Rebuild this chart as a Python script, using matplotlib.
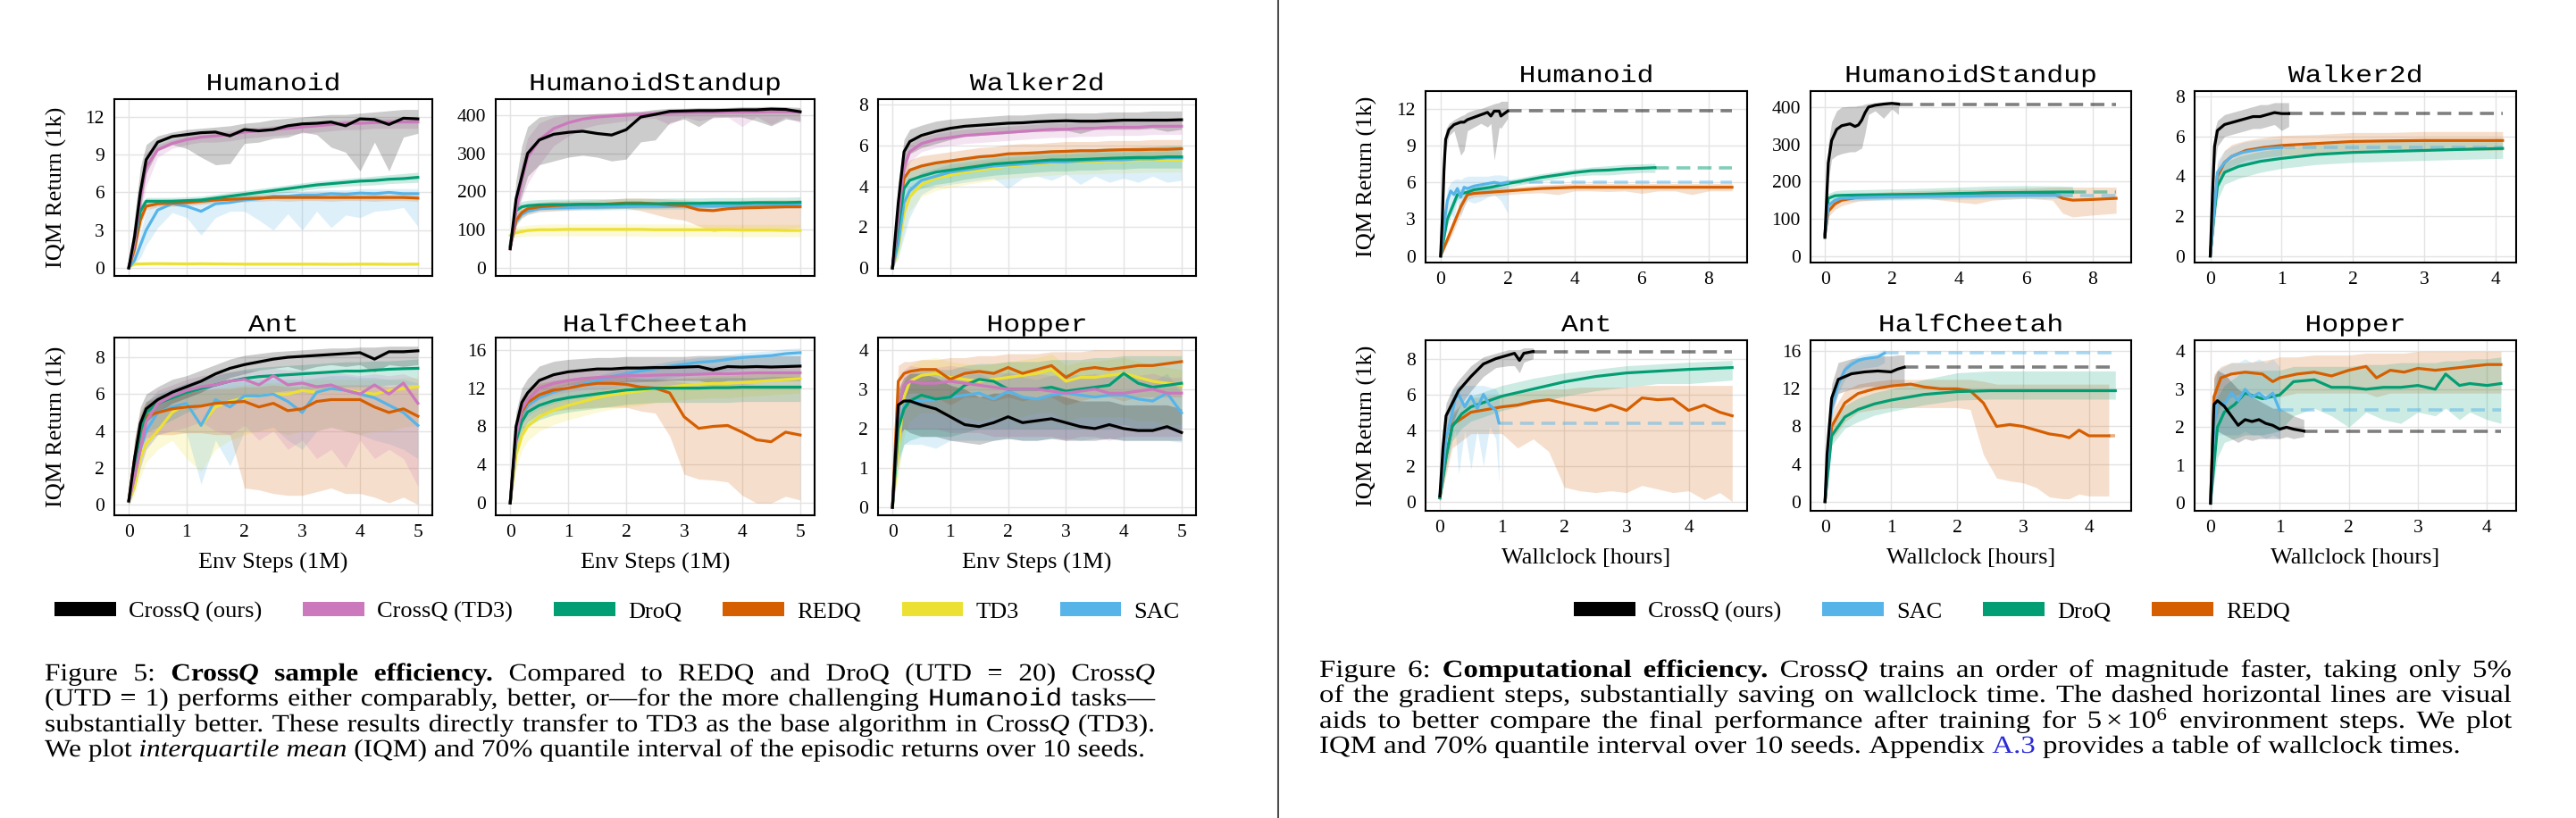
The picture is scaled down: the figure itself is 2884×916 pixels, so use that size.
import numpy as np
import matplotlib
matplotlib.use("Agg")
import matplotlib.pyplot as plt
from matplotlib.lines import Line2D
from matplotlib.patheffects import AbstractPathEffect
from matplotlib.transforms import Affine2D

# ---------------- Figure 5 data (x = env steps in 1M) ----------------
X5 = [0, 0.1, 0.2, 0.3, 0.5, 0.75, 1.0, 1.25, 1.5, 1.75, 2.0, 2.25, 2.5, 2.75, 3.0, 3.25, 3.5, 3.75, 4.0, 4.25, 4.5, 4.75, 5.0]

hum_cq    = [0, 2.5, 6.0, 8.6, 10.0, 10.45, 10.6, 10.75, 10.8, 10.5, 11.0, 10.9, 11.0, 11.3, 11.45, 11.5, 11.6, 11.3, 11.85, 11.8, 11.4, 11.9, 11.85]
hum_cq_lo = [0, 1.5, 4.5, 7.5, 9.3, 9.8, 9.5, 8.8, 8.2, 8.3, 9.9, 10.0, 10.3, 10.4, 10.8, 10.6, 9.6, 9.2, 7.7, 10.0, 7.7, 10.4, 10.7]
hum_cq_hi = [0.2, 4.0, 8.0, 9.8, 10.5, 10.8, 11.0, 11.1, 11.2, 11.3, 11.5, 11.6, 11.8, 11.9, 12.0, 12.1, 12.2, 12.2, 12.3, 12.4, 12.5, 12.6, 12.6]
hum_cqt    = [0, 2.0, 5.5, 8.0, 9.4, 9.9, 10.2, 10.4, 10.5, 10.6, 10.8, 10.9, 11.0, 11.1, 11.2, 11.3, 11.4, 11.5, 11.5, 11.55, 11.6, 11.6, 11.6]
hum_cqt_lo = [0, 1.0, 4.0, 6.5, 8.8, 9.5, 9.8, 10.0, 10.0, 10.1, 10.3, 10.4, 10.5, 10.6, 10.7, 10.8, 10.9, 11.0, 11.0, 11.1, 11.1, 11.1, 11.1]
hum_cqt_hi = [0.1, 3.0, 7.0, 9.2, 9.8, 10.2, 10.5, 10.7, 10.8, 10.9, 11.1, 11.2, 11.3, 11.4, 11.5, 11.6, 11.7, 11.8, 11.8, 11.9, 11.9, 11.9, 11.9]
hum_droq    = [0, 2.0, 4.5, 5.3, 5.3, 5.3, 5.35, 5.4, 5.55, 5.7, 5.85, 6.0, 6.15, 6.3, 6.45, 6.6, 6.7, 6.8, 6.9, 6.95, 7.05, 7.1, 7.2]
hum_droq_lo = [0, 1.5, 4.0, 5.0, 5.05, 5.05, 5.1, 5.15, 5.3, 5.45, 5.6, 5.75, 5.9, 6.0, 6.15, 6.3, 6.4, 6.5, 6.55, 6.6, 6.7, 6.75, 6.8]
hum_droq_hi = [0.1, 2.5, 5.0, 5.6, 5.6, 5.6, 5.65, 5.7, 5.85, 6.0, 6.15, 6.3, 6.45, 6.6, 6.75, 6.9, 7.0, 7.1, 7.2, 7.3, 7.4, 7.5, 7.6]
hum_redq    = [0, 1.5, 3.8, 4.9, 5.1, 5.15, 5.2, 5.3, 5.4, 5.45, 5.5, 5.55, 5.6, 5.6, 5.6, 5.6, 5.6, 5.6, 5.6, 5.6, 5.6, 5.6, 5.55]
hum_redq_lo = [0, 1.0, 3.2, 4.6, 4.85, 4.9, 4.95, 5.05, 5.15, 5.2, 5.25, 5.3, 5.35, 5.3, 5.35, 5.35, 5.3, 5.35, 5.35, 5.3, 5.35, 5.35, 5.3]
hum_redq_hi = [0.1, 2.0, 4.3, 5.2, 5.35, 5.4, 5.45, 5.55, 5.65, 5.7, 5.75, 5.8, 5.85, 5.85, 5.85, 5.85, 5.85, 5.85, 5.85, 5.85, 5.85, 5.85, 5.8]
hum_td3    = [0.1, 0.3, 0.32, 0.33, 0.34, 0.33, 0.32, 0.33, 0.32, 0.31, 0.3, 0.3, 0.3, 0.3, 0.3, 0.3, 0.29, 0.29, 0.3, 0.3, 0.29, 0.29, 0.3]
hum_td3_lo = [0.0, 0.15, 0.18, 0.2, 0.2, 0.2, 0.2, 0.2, 0.2, 0.2, 0.2, 0.19, 0.19, 0.19, 0.19, 0.19, 0.18, 0.18, 0.19, 0.19, 0.18, 0.18, 0.19]
hum_td3_hi = [0.15, 0.42, 0.45, 0.46, 0.47, 0.46, 0.45, 0.46, 0.45, 0.44, 0.43, 0.43, 0.43, 0.43, 0.43, 0.43, 0.42, 0.42, 0.43, 0.43, 0.42, 0.42, 0.43]
hum_sac    = [0, 0.6, 1.8, 3.0, 4.6, 5.1, 4.9, 4.5, 5.1, 5.2, 5.4, 5.5, 5.7, 5.7, 5.8, 5.8, 5.9, 5.85, 5.95, 5.9, 6.0, 5.9, 5.9]
hum_sac_lo = [0, 0.3, 0.8, 1.8, 3.2, 4.4, 4.0, 2.6, 4.0, 4.5, 4.5, 3.8, 3.0, 4.3, 3.0, 4.5, 3.2, 4.2, 4.0, 4.5, 4.6, 4.8, 3.3]
hum_sac_hi = [0.3, 1.0, 2.8, 4.5, 5.4, 5.5, 5.5, 5.5, 5.6, 5.7, 5.8, 5.9, 6.0, 6.1, 6.1, 6.2, 6.2, 6.2, 6.3, 6.3, 6.3, 6.3, 6.3]

hsu_cq    = [50, 180, 240, 300, 335, 350, 355, 358, 352, 348, 362, 395, 402, 410, 411, 412, 412, 413, 414, 414, 416, 415, 409]
hsu_cq_lo = [50, 140, 190, 240, 270, 280, 290, 295, 290, 280, 285, 330, 335, 380, 390, 370, 395, 395, 395, 385, 372, 390, 385]
hsu_cq_hi = [55, 230, 320, 370, 395, 400, 402, 402, 404, 405, 408, 410, 415, 418, 418, 420, 420, 420, 422, 422, 423, 422, 420]
hsu_cqt    = [50, 150, 230, 290, 335, 365, 380, 390, 395, 398, 400, 402, 404, 405, 406, 407, 407, 408, 408, 408, 409, 409, 408]
hsu_cqt_lo = [50, 110, 180, 220, 270, 320, 345, 365, 375, 380, 385, 390, 392, 375, 395, 385, 392, 395, 370, 396, 375, 395, 380]
hsu_cqt_hi = [55, 190, 280, 340, 380, 395, 400, 402, 404, 406, 408, 410, 412, 413, 414, 415, 416, 416, 417, 417, 418, 418, 418]
hsu_droq    = [60, 150, 160, 163, 165, 166, 166, 167, 167, 167, 168, 168, 168, 169, 169, 169, 170, 170, 170, 171, 171, 171, 172]
hsu_droq_lo = [55, 138, 148, 151, 153, 154, 154, 155, 155, 155, 156, 156, 156, 157, 157, 157, 158, 158, 158, 159, 159, 159, 160]
hsu_droq_hi = [65, 162, 174, 177, 179, 180, 180, 181, 181, 181, 182, 182, 182, 183, 183, 183, 184, 184, 184, 185, 185, 185, 186]
hsu_redq    = [55, 125, 145, 155, 160, 163, 165, 166, 166, 168, 170, 170, 168, 165, 163, 152, 150, 155, 157, 158, 159, 160, 160]
hsu_redq_lo = [50, 110, 130, 140, 148, 150, 152, 153, 154, 155, 156, 150, 140, 130, 125, 110, 95, 100, 102, 100, 100, 102, 105]
hsu_redq_hi = [60, 140, 160, 168, 172, 175, 176, 177, 178, 180, 183, 183, 182, 180, 178, 176, 175, 176, 177, 177, 178, 178, 178]
hsu_td3    = [85, 92, 95, 98, 100, 100, 101, 101, 101, 101, 101, 101, 100, 100, 100, 100, 100, 100, 99, 99, 99, 98, 98]
hsu_td3_lo = [78, 80, 82, 83, 84, 84, 84, 84, 84, 84, 84, 83, 83, 83, 83, 83, 83, 82, 82, 82, 82, 82, 82]
hsu_td3_hi = [95, 108, 110, 112, 114, 115, 115, 115, 115, 115, 115, 115, 115, 115, 115, 114, 114, 114, 114, 114, 114, 114, 114]
hsu_sac    = [55, 120, 140, 148, 155, 157, 158, 159, 159, 160, 160, 161, 161, 161, 162, 162, 162, 163, 163, 163, 164, 164, 165]
hsu_sac_lo = [50, 112, 132, 140, 147, 149, 150, 151, 151, 152, 152, 153, 153, 153, 154, 154, 154, 155, 155, 155, 156, 156, 157]
hsu_sac_hi = [60, 128, 148, 156, 163, 165, 166, 167, 167, 168, 168, 169, 169, 169, 170, 170, 170, 171, 171, 171, 172, 172, 173]

wlk_cq    = [0, 3.2, 5.7, 6.2, 6.5, 6.7, 6.85, 6.95, 7.0, 7.05, 7.1, 7.12, 7.17, 7.2, 7.22, 7.2, 7.2, 7.22, 7.25, 7.25, 7.25, 7.25, 7.27]
wlk_cq_lo = [0, 2.2, 4.6, 5.6, 5.9, 6.1, 6.3, 6.45, 6.5, 6.55, 6.6, 6.65, 6.7, 6.7, 6.75, 6.6, 6.8, 6.8, 6.8, 6.8, 6.85, 6.7, 6.8]
wlk_cq_hi = [0.1, 4.2, 6.3, 6.8, 7.0, 7.2, 7.3, 7.35, 7.4, 7.45, 7.5, 7.5, 7.55, 7.6, 7.6, 7.6, 7.6, 7.65, 7.65, 7.65, 7.7, 7.7, 7.7]
wlk_cqt    = [0, 2.5, 5.0, 5.7, 6.1, 6.3, 6.4, 6.5, 6.55, 6.6, 6.65, 6.7, 6.75, 6.8, 6.8, 6.85, 6.85, 6.9, 6.9, 6.9, 6.95, 6.95, 6.95]
wlk_cqt_lo = [0, 1.8, 4.2, 5.2, 5.7, 5.9, 6.0, 6.1, 6.15, 6.2, 6.25, 6.3, 6.35, 6.4, 6.4, 6.45, 6.45, 6.5, 6.5, 6.5, 6.55, 6.55, 6.55]
wlk_cqt_hi = [0.1, 3.2, 5.6, 6.1, 6.4, 6.6, 6.7, 6.8, 6.85, 6.9, 6.95, 7.0, 7.05, 7.1, 7.1, 7.15, 7.15, 7.2, 7.2, 7.2, 7.25, 7.25, 7.25]
wlk_droq    = [0, 2.0, 3.9, 4.3, 4.5, 4.7, 4.8, 4.9, 5.0, 5.1, 5.15, 5.2, 5.25, 5.3, 5.3, 5.32, 5.35, 5.38, 5.4, 5.42, 5.42, 5.45, 5.45]
wlk_droq_lo = [0, 1.4, 3.2, 3.7, 3.9, 4.1, 4.2, 4.35, 4.45, 4.55, 4.6, 4.65, 4.7, 4.75, 4.75, 4.8, 4.8, 4.85, 4.85, 4.9, 4.9, 4.9, 4.9]
wlk_droq_hi = [0.1, 2.6, 4.5, 4.9, 5.1, 5.25, 5.35, 5.45, 5.55, 5.6, 5.65, 5.7, 5.75, 5.8, 5.8, 5.85, 5.85, 5.9, 5.9, 5.95, 5.95, 6.0, 6.0]
wlk_redq    = [0, 2.5, 4.4, 4.8, 5.0, 5.15, 5.25, 5.35, 5.45, 5.5, 5.6, 5.62, 5.65, 5.7, 5.72, 5.75, 5.75, 5.78, 5.8, 5.8, 5.82, 5.82, 5.85]
wlk_redq_lo = [0, 1.8, 3.8, 4.3, 4.5, 4.7, 4.8, 4.9, 5.0, 5.05, 5.15, 5.15, 5.2, 5.25, 5.25, 5.3, 5.3, 5.3, 5.35, 5.35, 5.35, 5.35, 5.4]
wlk_redq_hi = [0.1, 3.2, 5.0, 5.3, 5.5, 5.6, 5.7, 5.8, 5.9, 5.95, 6.05, 6.1, 6.1, 6.15, 6.2, 6.2, 6.2, 6.25, 6.25, 6.25, 6.3, 6.3, 6.3]
wlk_td3    = [0, 1.0, 2.7, 3.5, 4.1, 4.4, 4.55, 4.7, 4.8, 4.9, 5.0, 5.05, 5.1, 5.15, 5.2, 5.2, 5.22, 5.25, 5.25, 5.28, 5.3, 5.3, 5.3]
wlk_td3_lo = [0, 0.5, 1.8, 2.8, 3.5, 3.8, 3.95, 4.1, 4.2, 4.3, 4.4, 4.45, 4.5, 4.55, 4.6, 4.6, 4.62, 4.65, 4.65, 4.68, 4.7, 4.7, 4.7]
wlk_td3_hi = [0.1, 1.6, 3.4, 4.0, 4.5, 4.8, 4.95, 5.1, 5.2, 5.3, 5.4, 5.45, 5.5, 5.55, 5.6, 5.6, 5.62, 5.65, 5.65, 5.68, 5.7, 5.7, 5.7]
wlk_sac    = [0, 1.2, 3.2, 3.8, 4.3, 4.5, 4.7, 4.8, 4.9, 5.0, 5.05, 5.1, 5.15, 5.2, 5.2, 5.25, 5.28, 5.3, 5.3, 5.35, 5.35, 5.4, 5.4]
wlk_sac_lo = [0, 0.5, 1.5, 2.5, 3.6, 4.0, 4.1, 4.2, 4.3, 4.4, 3.9, 4.4, 4.5, 4.3, 4.6, 4.1, 4.5, 4.2, 4.4, 4.2, 4.5, 4.2, 4.3]
wlk_sac_hi = [0.1, 1.8, 3.7, 4.2, 4.7, 4.9, 5.1, 5.2, 5.3, 5.4, 5.45, 5.5, 5.55, 5.6, 5.6, 5.65, 5.68, 5.7, 5.7, 5.75, 5.75, 5.8, 5.8]

ant_cq    = [0.2, 2.5, 4.4, 5.2, 5.7, 6.1, 6.4, 6.7, 7.1, 7.4, 7.6, 7.75, 7.9, 8.0, 8.05, 8.1, 8.15, 8.2, 8.25, 7.9, 8.3, 8.3, 8.35]
ant_cq_lo = [0, 1.5, 3.5, 4.5, 5.0, 5.5, 5.8, 6.1, 6.5, 6.9, 7.1, 7.3, 7.4, 7.5, 7.3, 7.5, 7.6, 7.5, 7.6, 7.2, 7.6, 7.5, 7.6]
ant_cq_hi = [0.3, 3.5, 5.3, 6.0, 6.4, 6.8, 7.0, 7.3, 7.6, 7.9, 8.1, 8.2, 8.3, 8.35, 8.4, 8.45, 8.5, 8.5, 8.55, 8.55, 8.6, 8.6, 8.6]
ant_cqt    = [0.2, 1.5, 3.0, 4.5, 5.5, 5.9, 6.2, 6.4, 6.5, 6.7, 6.8, 6.5, 7.0, 6.5, 6.6, 6.4, 6.5, 6.2, 6.0, 6.5, 6.0, 6.6, 5.5]
ant_cqt_lo = [0, 0.8, 2.0, 3.0, 3.8, 4.0, 4.2, 4.5, 4.0, 3.8, 4.3, 3.5, 4.0, 3.0, 3.5, 2.5, 3.0, 2.0, 3.5, 2.5, 3.0, 2.5, 1.0]
ant_cqt_hi = [0.3, 2.5, 4.2, 5.5, 6.2, 6.5, 6.8, 7.0, 7.1, 7.2, 7.3, 7.3, 7.4, 7.3, 7.3, 7.2, 7.2, 7.1, 7.0, 7.1, 7.0, 7.1, 6.8]
ant_droq    = [0.2, 2.0, 4.0, 5.0, 5.5, 5.8, 6.1, 6.3, 6.5, 6.7, 6.85, 6.95, 7.0, 7.05, 7.1, 7.15, 7.2, 7.25, 7.25, 7.3, 7.35, 7.38, 7.4]
ant_droq_lo = [0, 1.2, 3.0, 3.9, 4.2, 4.6, 5.0, 5.3, 5.5, 5.7, 5.9, 6.0, 6.1, 6.2, 6.2, 6.3, 6.3, 6.4, 6.4, 6.4, 6.5, 6.5, 6.5]
ant_droq_hi = [0.3, 2.8, 4.8, 5.6, 6.0, 6.3, 6.6, 6.8, 7.0, 7.2, 7.35, 7.45, 7.5, 7.55, 7.6, 7.65, 7.7, 7.75, 7.75, 7.8, 7.8, 7.85, 7.9]
ant_redq    = [0.2, 2.5, 4.0, 4.8, 5.0, 5.2, 5.3, 5.35, 5.5, 5.55, 5.6, 5.3, 5.5, 5.1, 5.2, 5.6, 5.7, 5.7, 5.7, 5.3, 5.0, 5.2, 4.8]
ant_redq_lo = [0, 1.5, 3.0, 3.6, 3.8, 3.8, 3.9, 3.9, 3.8, 3.8, 0.9, 0.8, 0.6, 0.5, 0.5, 0.7, 0.9, 0.6, 0.6, 0.4, 0.1, 0.4, 0.0]
ant_redq_hi = [0.3, 3.5, 5.0, 5.6, 5.8, 6.0, 6.1, 6.2, 6.3, 6.3, 6.4, 6.4, 6.5, 6.4, 6.4, 6.5, 6.5, 6.5, 6.5, 6.5, 6.4, 6.5, 6.4]
ant_td3    = [0.2, 1.0, 2.5, 3.3, 4.0, 5.0, 5.5, 4.3, 5.3, 5.6, 5.8, 5.9, 6.0, 6.0, 6.2, 6.1, 6.3, 6.2, 6.1, 6.0, 6.2, 6.3, 6.4]
ant_td3_lo = [0, 0.5, 1.5, 2.3, 3.0, 3.5, 2.5, 1.8, 3.0, 3.5, 3.8, 4.0, 4.0, 3.8, 4.0, 4.0, 4.2, 4.0, 3.8, 4.0, 4.0, 4.2, 4.3]
ant_td3_hi = [0.3, 1.8, 3.5, 4.3, 5.0, 5.8, 6.2, 6.2, 6.3, 6.4, 6.5, 6.6, 6.6, 6.7, 6.7, 6.8, 6.8, 6.8, 6.8, 6.8, 6.8, 6.9, 6.9]
ant_sac    = [0.2, 1.5, 3.0, 4.0, 5.0, 5.3, 5.5, 4.3, 5.7, 5.3, 5.9, 5.9, 6.0, 5.6, 5.0, 6.1, 6.3, 6.2, 6.0, 5.8, 5.4, 5.0, 4.3]
ant_sac_lo = [0, 0.8, 2.0, 3.0, 3.8, 4.0, 3.9, 1.1, 3.5, 2.1, 4.0, 4.0, 4.2, 3.5, 3.0, 4.0, 4.2, 4.0, 3.8, 3.5, 3.3, 3.0, 2.5]
ant_sac_hi = [0.3, 2.5, 4.0, 5.0, 5.8, 6.2, 6.4, 6.4, 6.6, 6.6, 6.7, 6.8, 6.8, 6.8, 6.8, 6.9, 7.0, 7.0, 6.9, 6.9, 6.8, 6.8, 6.6]

hch_cq    = [0, 8.0, 10.5, 11.5, 12.8, 13.4, 13.7, 13.85, 14.0, 14.0, 14.1, 14.1, 14.15, 14.15, 14.2, 14.25, 13.9, 14.25, 14.2, 14.25, 14.2, 14.25, 14.3]
hch_cq_lo = [0, 6.5, 9.0, 10.0, 11.2, 12.0, 12.3, 12.5, 12.6, 12.6, 12.7, 12.7, 12.7, 12.8, 12.8, 12.8, 12.5, 12.8, 12.8, 12.8, 12.8, 12.8, 12.8]
hch_cq_hi = [0.2, 9.5, 12.0, 13.0, 14.3, 14.8, 15.0, 15.1, 15.2, 15.2, 15.3, 15.3, 15.3, 15.3, 15.3, 15.4, 15.4, 15.4, 15.4, 15.4, 15.4, 15.4, 15.4]
hch_cqt    = [0, 7.0, 9.8, 10.8, 12.0, 12.5, 12.8, 13.0, 13.1, 13.2, 13.3, 13.3, 13.35, 13.4, 13.4, 13.45, 13.5, 13.5, 13.55, 13.6, 13.6, 13.6, 13.6]
hch_cqt_lo = [0, 5.8, 8.6, 9.6, 10.8, 11.3, 11.6, 11.8, 11.9, 12.0, 12.1, 12.1, 12.15, 12.2, 12.2, 12.25, 12.3, 12.3, 12.35, 12.4, 12.4, 12.4, 12.4]
hch_cqt_hi = [0.2, 7.8, 10.6, 11.6, 12.8, 13.3, 13.6, 13.8, 13.9, 14.0, 14.1, 14.1, 14.15, 14.2, 14.2, 14.25, 14.3, 14.3, 14.35, 14.4, 14.4, 14.4, 14.4]
hch_droq    = [0, 6.5, 8.5, 9.5, 10.2, 10.7, 11.0, 11.2, 11.4, 11.6, 11.8, 11.9, 12.0, 12.0, 12.0, 12.0, 12.05, 12.05, 12.1, 12.1, 12.1, 12.1, 12.1]
hch_droq_lo = [0, 5.0, 7.0, 8.0, 8.7, 9.2, 9.5, 9.7, 9.9, 10.1, 10.3, 10.4, 10.5, 10.5, 10.5, 10.5, 10.5, 10.5, 10.6, 10.6, 10.6, 10.6, 10.6]
hch_droq_hi = [0.2, 7.5, 9.5, 10.5, 11.2, 11.7, 12.0, 12.2, 12.4, 12.6, 12.8, 12.9, 13.0, 13.0, 13.0, 13.0, 13.1, 13.1, 13.1, 13.1, 13.2, 13.2, 13.2]
hch_redq    = [0, 7.0, 9.5, 10.5, 11.3, 11.8, 12.0, 12.3, 12.5, 12.5, 12.4, 12.1, 12.0, 11.5, 9.0, 7.8, 8.0, 8.1, 7.4, 6.6, 6.4, 7.4, 7.1]
hch_redq_lo = [0, 5.5, 7.5, 8.5, 9.3, 9.6, 9.8, 9.9, 10.0, 10.0, 10.0, 9.6, 9.4, 7.0, 3.0, 2.5, 2.4, 2.2, 0.8, 0.0, 0.0, 0.7, 0.3]
hch_redq_hi = [0.2, 8.5, 11.0, 11.8, 12.5, 12.8, 13.0, 13.2, 13.3, 13.3, 13.2, 13.0, 12.9, 12.8, 12.6, 12.5, 12.5, 12.5, 12.5, 12.4, 12.4, 12.4, 12.4]
hch_td3    = [0, 5.0, 7.0, 8.0, 9.0, 9.7, 10.2, 10.6, 11.0, 11.3, 11.5, 11.7, 12.0, 12.1, 12.3, 12.4, 12.5, 12.5, 12.6, 12.7, 12.8, 12.9, 13.0]
hch_td3_lo = [0, 3.5, 5.5, 6.5, 7.5, 8.2, 8.7, 9.1, 9.5, 9.8, 10.0, 10.2, 10.5, 10.6, 10.8, 10.9, 11.0, 11.0, 11.1, 11.2, 11.3, 11.4, 11.5]
hch_td3_hi = [0.2, 5.8, 7.8, 8.8, 9.8, 10.5, 11.0, 11.4, 11.8, 12.1, 12.3, 12.5, 12.8, 12.9, 13.1, 13.2, 13.3, 13.3, 13.4, 13.5, 13.6, 13.7, 13.8]
hch_sac    = [0, 7.0, 9.3, 10.2, 11.0, 11.6, 12.0, 12.4, 12.8, 13.2, 13.5, 13.8, 14.0, 14.3, 14.5, 14.7, 14.8, 15.0, 15.2, 15.3, 15.4, 15.6, 15.7]
hch_sac_lo = [0, 5.8, 8.1, 9.0, 9.8, 10.4, 10.8, 11.2, 11.6, 12.0, 12.3, 12.6, 12.8, 13.1, 13.3, 13.5, 13.6, 13.8, 14.0, 14.1, 14.2, 14.4, 14.5]
hch_sac_hi = [0.2, 7.5, 9.8, 10.7, 11.5, 12.1, 12.5, 12.9, 13.3, 13.7, 14.0, 14.3, 14.5, 14.8, 15.0, 15.2, 15.3, 15.5, 15.7, 15.8, 15.9, 16.1, 16.2]

hop_cq    = [0, 2.6, 2.7, 2.7, 2.6, 2.5, 2.3, 2.1, 2.05, 2.15, 2.3, 2.15, 2.2, 2.25, 2.15, 2.05, 2.0, 2.1, 2.0, 1.95, 1.95, 2.05, 1.9]
hop_cq_lo = [0, 1.8, 2.0, 1.9, 1.8, 1.8, 1.7, 1.65, 1.6, 1.7, 1.75, 1.7, 1.7, 1.75, 1.7, 1.7, 1.7, 1.75, 1.7, 1.7, 1.7, 1.7, 1.7]
hop_cq_hi = [0.1, 3.0, 3.3, 3.4, 3.4, 3.3, 3.1, 3.0, 2.8, 2.9, 2.9, 2.8, 2.8, 2.9, 2.8, 2.7, 2.7, 2.7, 2.6, 2.6, 2.6, 2.6, 2.5]
hop_cqt    = [0, 2.5, 3.1, 3.2, 3.15, 3.15, 3.2, 3.15, 3.1, 3.05, 3.0, 3.0, 3.0, 2.95, 2.9, 2.95, 3.0, 2.9, 2.9, 2.95, 3.0, 2.9, 2.9]
hop_cqt_lo = [0, 1.5, 2.0, 2.0, 2.0, 2.0, 1.9, 1.9, 1.9, 1.8, 1.8, 1.8, 1.8, 1.8, 1.7, 1.8, 1.8, 1.7, 1.8, 1.8, 1.8, 1.8, 1.8]
hop_cqt_hi = [0.1, 2.9, 3.5, 3.6, 3.55, 3.55, 3.6, 3.55, 3.5, 3.45, 3.4, 3.4, 3.4, 3.35, 3.3, 3.35, 3.4, 3.3, 3.3, 3.35, 3.4, 3.3, 3.3]
hop_droq    = [0, 2.0, 2.5, 2.7, 2.85, 2.75, 2.8, 3.1, 3.25, 3.2, 3.0, 3.0, 3.0, 3.05, 2.95, 3.0, 3.05, 3.1, 3.4, 3.15, 3.05, 3.1, 3.15]
hop_droq_lo = [0, 1.2, 1.6, 1.7, 1.8, 1.8, 1.8, 1.9, 2.0, 2.0, 2.0, 2.0, 2.0, 2.0, 2.0, 2.0, 2.0, 2.0, 2.1, 2.0, 2.0, 2.0, 2.0]
hop_droq_hi = [0.1, 2.8, 3.2, 3.4, 3.5, 3.5, 3.5, 3.6, 3.65, 3.65, 3.7, 3.7, 3.7, 3.75, 3.75, 3.75, 3.8, 3.8, 3.85, 3.85, 3.85, 3.85, 3.85]
hop_redq    = [0, 3.2, 3.4, 3.45, 3.5, 3.5, 3.25, 3.4, 3.45, 3.4, 3.55, 3.4, 3.5, 3.6, 3.3, 3.5, 3.55, 3.5, 3.55, 3.6, 3.6, 3.65, 3.7]
hop_redq_lo = [0, 2.5, 2.8, 2.9, 2.9, 2.8, 2.6, 2.8, 2.8, 2.7, 2.8, 2.7, 2.8, 2.8, 2.6, 2.7, 2.8, 2.8, 2.7, 2.8, 2.8, 2.8, 2.8]
hop_redq_hi = [0.1, 3.6, 3.7, 3.7, 3.75, 3.75, 3.8, 3.8, 3.85, 3.85, 3.9, 3.9, 3.9, 3.95, 3.95, 3.95, 4.0, 4.0, 4.0, 4.0, 4.0, 4.0, 4.0]
hop_td3    = [0, 1.5, 2.8, 3.2, 3.35, 3.4, 3.3, 3.25, 3.2, 3.25, 3.3, 3.35, 3.4, 3.5, 3.2, 3.3, 3.3, 3.35, 3.4, 3.3, 3.2, 3.15, 3.1]
hop_td3_lo = [0, 0.8, 1.8, 2.2, 2.4, 2.4, 2.3, 2.3, 2.2, 2.3, 2.3, 2.3, 2.4, 2.4, 2.2, 2.3, 2.3, 2.3, 2.3, 2.2, 2.2, 2.1, 2.1]
hop_td3_hi = [0.1, 1.9, 3.2, 3.6, 3.75, 3.8, 3.7, 3.65, 3.6, 3.65, 3.7, 3.75, 3.8, 3.9, 3.6, 3.7, 3.7, 3.75, 3.8, 3.7, 3.6, 3.55, 3.5]
hop_sac    = [0, 2.0, 2.6, 2.7, 2.7, 2.75, 2.8, 2.85, 2.9, 2.75, 2.95, 2.8, 2.75, 2.85, 2.9, 2.85, 2.8, 2.85, 2.85, 2.75, 2.7, 2.9, 2.4]
hop_sac_lo = [0, 1.0, 1.6, 1.6, 1.6, 1.5, 1.7, 1.7, 1.7, 1.7, 1.75, 1.7, 1.7, 1.75, 1.75, 1.7, 1.75, 1.75, 1.7, 1.7, 1.7, 1.7, 1.65]
hop_sac_hi = [0.1, 2.5, 3.1, 3.2, 3.2, 3.25, 3.3, 3.35, 3.4, 3.25, 3.45, 3.3, 3.25, 3.35, 3.4, 3.35, 3.3, 3.35, 3.35, 3.25, 3.2, 3.4, 2.9]

# ---------------- Figure 6 data (x = wallclock hours) ----------------
w_hum_cq_x  = [0, 0.05, 0.1, 0.15, 0.25, 0.4, 0.6, 0.7, 0.8, 1.0, 1.2, 1.4, 1.5, 1.6, 1.75, 1.8, 2.0]
w_hum_cq    = [0, 3.0, 7.0, 9.5, 10.3, 10.7, 10.9, 10.9, 11.1, 11.3, 11.5, 11.7, 11.4, 11.8, 11.8, 11.4, 11.8]
w_hum_cq_lo = [0, 2.0, 5.5, 8.5, 9.8, 10.2, 8.2, 8.6, 10.2, 10.5, 10.8, 10.5, 10.8, 7.8, 10.5, 10.4, 11.2]
w_hum_cq_hi = [0.2, 4.0, 8.5, 10.3, 10.8, 11.1, 11.4, 11.5, 11.7, 11.9, 12.0, 12.2, 12.3, 12.4, 12.5, 12.6, 12.6]
w_hum_sac_x  = [0, 0.1, 0.2, 0.3, 0.4, 0.5, 0.6, 0.7, 0.8, 1.0, 1.2, 1.4, 1.6, 1.8, 2.0]
w_hum_sac    = [0, 2.5, 4.5, 5.3, 5.0, 5.5, 4.8, 5.6, 5.5, 5.7, 5.8, 5.9, 6.0, 5.9, 6.0]
w_hum_sac_lo = [0, 1.5, 3.0, 3.5, 3.0, 4.5, 3.2, 4.0, 4.5, 4.3, 4.5, 4.8, 5.0, 4.5, 3.5]
w_hum_sac_hi = [0.3, 3.5, 5.5, 6.0, 6.2, 6.3, 6.2, 6.4, 6.5, 6.5, 6.5, 6.5, 6.6, 6.6, 6.5]
w_hum_droq_x  = [0, 0.2, 0.5, 0.8, 1.0, 1.5, 2.0, 2.5, 3.0, 3.5, 4.0, 4.5, 5.0, 5.5, 6.0, 6.4]
w_hum_droq    = [0, 3.0, 5.0, 5.2, 5.4, 5.6, 5.9, 6.15, 6.4, 6.6, 6.8, 6.95, 7.0, 7.1, 7.15, 7.2]
w_hum_droq_lo = [0, 2.5, 4.6, 4.9, 5.1, 5.3, 5.6, 5.85, 6.1, 6.3, 6.5, 6.6, 6.6, 6.7, 6.8, 6.8]
w_hum_droq_hi = [0.1, 3.5, 5.4, 5.5, 5.7, 5.9, 6.2, 6.45, 6.7, 6.9, 7.1, 7.25, 7.35, 7.45, 7.5, 7.55]
w_hum_redq_x  = [0, 0.3, 0.6, 0.8, 1.0, 1.5, 2.0, 2.5, 3.0, 3.5, 4.0, 4.5, 5.0, 5.5, 6.0, 6.5, 7.0, 7.5, 8.0, 8.7]
w_hum_redq    = [0, 2.0, 4.0, 5.0, 5.1, 5.2, 5.3, 5.4, 5.5, 5.55, 5.6, 5.6, 5.6, 5.6, 5.6, 5.6, 5.6, 5.6, 5.6, 5.6]
w_hum_redq_lo = [0, 1.5, 3.4, 4.6, 4.8, 4.9, 5.0, 5.1, 5.15, 5.0, 5.3, 5.3, 5.25, 5.3, 5.1, 5.3, 5.3, 5.0, 5.3, 5.3]
w_hum_redq_hi = [0.1, 2.5, 4.5, 5.3, 5.4, 5.5, 5.6, 5.7, 5.8, 5.85, 5.9, 5.9, 5.9, 5.9, 5.9, 5.9, 5.9, 5.9, 5.9, 5.9]

w_hsu_cq_x  = [0, 0.05, 0.1, 0.2, 0.35, 0.5, 0.75, 0.9, 1.0, 1.1, 1.2, 1.3, 1.5, 1.75, 2.0, 2.2]
w_hsu_cq    = [50, 150, 250, 310, 340, 350, 355, 348, 352, 365, 385, 400, 405, 408, 410, 408]
w_hsu_cq_lo = [50, 120, 200, 260, 270, 275, 280, 280, 285, 290, 330, 380, 390, 370, 395, 380]
w_hsu_cq_hi = [55, 180, 300, 360, 390, 400, 402, 402, 404, 405, 408, 410, 412, 414, 415, 415]
w_hsu_sac_x  = [0, 0.1, 0.3, 0.5, 1, 2, 3, 4, 5, 6, 7.0]
w_hsu_sac    = [55, 135, 150, 155, 157, 159, 160, 161, 162, 163, 163]
w_hsu_sac_lo = [50, 125, 140, 146, 148, 150, 151, 152, 153, 154, 154]
w_hsu_sac_hi = [60, 145, 158, 163, 165, 167, 168, 169, 170, 171, 171]
w_hsu_droq_x  = [0, 0.1, 0.3, 0.5, 1, 2, 3, 4, 5, 6, 7, 7.4]
w_hsu_droq    = [60, 155, 162, 163, 164, 165, 166, 168, 170, 171, 172, 172]
w_hsu_droq_lo = [55, 143, 150, 151, 152, 153, 154, 156, 158, 159, 160, 160]
w_hsu_droq_hi = [65, 168, 175, 177, 178, 180, 182, 185, 188, 189, 188, 187]
w_hsu_redq_x  = [0, 0.1, 0.3, 0.5, 1, 2, 3, 4, 4.5, 5, 6, 6.8, 7.1, 7.4, 8.0, 8.7]
w_hsu_redq    = [55, 120, 140, 150, 158, 163, 165, 167, 168, 170, 170, 168, 155, 150, 152, 155]
w_hsu_redq_lo = [50, 105, 125, 135, 148, 153, 155, 145, 140, 150, 155, 150, 115, 105, 110, 115]
w_hsu_redq_hi = [60, 135, 155, 162, 168, 173, 176, 178, 178, 180, 182, 185, 185, 185, 185, 185]

w_wlk_cq_x  = [0, 0.03, 0.06, 0.1, 0.2, 0.3, 0.4, 0.5, 0.6, 0.7, 0.8, 0.9, 1.0, 1.1]
w_wlk_cq    = [0, 3.0, 5.5, 6.3, 6.6, 6.7, 6.8, 6.9, 7.0, 7.0, 7.1, 7.2, 7.15, 7.15]
w_wlk_cq_lo = [0, 2.0, 4.5, 5.5, 6.0, 6.1, 6.2, 6.3, 6.4, 6.4, 6.5, 6.6, 6.3, 6.5]
w_wlk_cq_hi = [0.1, 4.0, 6.3, 6.8, 7.1, 7.2, 7.3, 7.4, 7.5, 7.6, 7.6, 7.7, 7.7, 7.7]
w_wlk_sac_x  = [0, 0.1, 0.2, 0.3, 0.45, 0.6, 0.8, 1.0]
w_wlk_sac    = [0, 4.2, 4.7, 5.0, 5.2, 5.3, 5.4, 5.45]
w_wlk_sac_lo = [0, 3.5, 4.1, 4.4, 4.6, 4.7, 4.9, 4.95]
w_wlk_sac_hi = [0.1, 4.8, 5.3, 5.5, 5.7, 5.8, 5.85, 5.9]
w_wlk_droq_x  = [0, 0.05, 0.1, 0.2, 0.4, 0.7, 1.0, 1.5, 2.0, 2.5, 3.0, 3.5, 4.1]
w_wlk_droq    = [0, 2.0, 3.5, 4.2, 4.5, 4.75, 4.9, 5.1, 5.2, 5.25, 5.3, 5.35, 5.4]
w_wlk_droq_lo = [0, 1.2, 2.8, 3.6, 3.9, 4.2, 4.4, 4.6, 4.7, 4.75, 4.8, 4.85, 4.9]
w_wlk_droq_hi = [0.1, 2.6, 4.1, 4.7, 5.0, 5.25, 5.4, 5.6, 5.7, 5.75, 5.8, 5.85, 5.9]
w_wlk_redq_x  = [0, 0.1, 0.2, 0.3, 0.5, 0.75, 1.0, 1.5, 2.0, 2.5, 3.0, 3.5, 4.1]
w_wlk_redq    = [0, 4.0, 4.7, 5.0, 5.3, 5.45, 5.55, 5.65, 5.75, 5.78, 5.8, 5.8, 5.8]
w_wlk_redq_lo = [0, 3.4, 4.2, 4.5, 4.8, 4.95, 5.05, 5.15, 5.25, 5.3, 5.3, 5.3, 5.3]
w_wlk_redq_hi = [0.1, 4.6, 5.3, 5.6, 5.8, 5.95, 6.05, 6.1, 6.2, 6.2, 6.25, 6.25, 6.25]

w_ant_cq_x  = [0, 0.05, 0.1, 0.2, 0.3, 0.5, 0.7, 0.9, 1.1, 1.2, 1.28, 1.35, 1.5]
w_ant_cq    = [0.3, 3.0, 4.8, 5.5, 6.2, 7.0, 7.7, 8.0, 8.2, 8.3, 7.9, 8.3, 8.4]
w_ant_cq_lo = [0, 2.0, 3.8, 4.3, 5.2, 6.2, 7.0, 7.5, 7.6, 7.6, 7.2, 7.8, 8.0]
w_ant_cq_hi = [0.4, 4.0, 5.5, 6.3, 6.8, 7.6, 8.1, 8.3, 8.5, 8.5, 8.5, 8.6, 8.6]
w_ant_sac_x  = [0, 0.1, 0.2, 0.25, 0.3, 0.4, 0.5, 0.6, 0.7, 0.8, 0.9, 0.95]
w_ant_sac    = [0.3, 3.5, 5.0, 5.8, 6.0, 5.3, 5.9, 5.2, 6.0, 5.4, 5.1, 4.4]
w_ant_sac_lo = [0, 2.0, 3.5, 4.0, 1.5, 4.0, 1.8, 4.0, 2.0, 4.2, 3.5, 1.0]
w_ant_sac_hi = [0.5, 4.5, 6.2, 6.4, 6.5, 6.5, 6.5, 6.5, 6.5, 6.4, 6.3, 6.0]
w_ant_droq_x  = [0, 0.1, 0.2, 0.35, 0.5, 0.75, 1.0, 1.5, 2.0, 2.5, 3.0, 3.5, 4.0, 4.7]
w_ant_droq    = [0.2, 2.5, 4.2, 4.9, 5.3, 5.6, 5.9, 6.3, 6.7, 7.0, 7.2, 7.3, 7.4, 7.5]
w_ant_droq_lo = [0, 1.8, 3.4, 4.1, 4.5, 4.8, 5.1, 5.5, 5.9, 6.2, 6.4, 6.6, 6.6, 6.8]
w_ant_droq_hi = [0.3, 3.0, 4.8, 5.5, 5.9, 6.2, 6.5, 6.9, 7.2, 7.4, 7.6, 7.7, 7.8, 7.9]
w_ant_redq_x  = [0, 0.1, 0.2, 0.5, 1.0, 1.25, 1.5, 1.75, 2.0, 2.25, 2.5, 2.75, 3.0, 3.25, 3.5, 3.75, 4.0, 4.25, 4.5, 4.7]
w_ant_redq    = [0.2, 2.5, 4.3, 5.0, 5.3, 5.4, 5.6, 5.7, 5.5, 5.3, 5.1, 5.4, 5.1, 5.8, 5.7, 5.75, 5.1, 5.4, 5.0, 4.8]
w_ant_redq_lo = [0, 1.5, 3.0, 3.8, 3.8, 3.0, 3.5, 2.8, 0.8, 0.6, 0.5, 0.6, 0.5, 0.9, 0.7, 0.5, 0.6, 0.1, 0.5, 0.0]
w_ant_redq_hi = [0.3, 3.5, 5.0, 5.8, 6.0, 6.1, 6.2, 6.3, 6.3, 6.4, 6.4, 6.4, 6.4, 6.5, 6.5, 6.5, 6.5, 6.5, 6.5, 6.5]

w_hch_cq_x  = [0, 0.03, 0.1, 0.2, 0.4, 0.6, 0.8, 1.0, 1.1, 1.2]
w_hch_cq    = [0, 5.0, 11.0, 13.0, 13.6, 13.8, 13.9, 13.8, 14.1, 14.3]
w_hch_cq_lo = [0, 4.0, 9.5, 11.5, 12.0, 12.2, 12.3, 12.2, 12.4, 12.5]
w_hch_cq_hi = [0.2, 6.0, 12.5, 14.8, 15.2, 15.4, 15.5, 15.5, 15.6, 15.6]
w_hch_sac_x  = [0, 0.05, 0.1, 0.2, 0.3, 0.4, 0.5, 0.6, 0.7, 0.8, 0.9]
w_hch_sac    = [0, 6.0, 10.0, 12.5, 14.0, 14.6, 15.0, 15.2, 15.3, 15.4, 15.8]
w_hch_sac_lo = [0, 5.0, 9.0, 11.5, 13.0, 13.6, 14.0, 14.2, 14.3, 14.4, 14.8]
w_hch_sac_hi = [0.2, 6.5, 10.5, 13.0, 14.5, 15.1, 15.5, 15.7, 15.8, 15.9, 16.2]
w_hch_droq_x  = [0, 0.1, 0.3, 0.5, 0.75, 1.0, 1.5, 2.0, 2.5, 3.0, 3.5, 4.0, 4.4]
w_hch_droq    = [0, 7.0, 9.0, 9.8, 10.4, 10.8, 11.4, 11.7, 11.8, 11.8, 11.8, 11.8, 11.8]
w_hch_droq_lo = [0, 6.0, 7.8, 8.5, 9.2, 9.6, 10.3, 10.8, 10.9, 10.9, 10.9, 10.9, 10.9]
w_hch_droq_hi = [0.2, 8.0, 10.2, 11.0, 11.6, 12.0, 13.0, 13.7, 13.9, 13.9, 13.9, 13.9, 13.9]
w_hch_redq_x  = [0, 0.1, 0.3, 0.5, 0.75, 1.0, 1.3, 1.5, 1.75, 2.0, 2.2, 2.4, 2.6, 2.8, 3.0, 3.2, 3.4, 3.6, 3.7, 3.85, 4.0, 4.3]
w_hch_redq    = [0, 8.0, 10.5, 11.5, 12.0, 12.3, 12.5, 12.2, 12.0, 12.0, 11.8, 10.5, 8.0, 8.2, 8.0, 7.6, 7.2, 7.0, 6.8, 7.6, 7.0, 7.0]
w_hch_redq_lo = [0, 6.5, 8.5, 9.5, 9.8, 10.0, 10.0, 10.0, 10.0, 10.0, 9.8, 5.0, 2.5, 2.2, 2.0, 1.5, 0.5, 0.3, 0.3, 0.8, 0.6, 0.6]
w_hch_redq_hi = [0.2, 9.5, 11.8, 12.5, 12.8, 13.0, 13.0, 13.0, 13.0, 13.0, 13.0, 12.8, 12.5, 12.5, 12.5, 12.5, 12.5, 12.5, 12.5, 12.5, 12.5, 12.5]

w_hop_cq_x  = [0, 0.05, 0.1, 0.2, 0.3, 0.4, 0.5, 0.6, 0.7, 0.8, 0.9, 1.0, 1.1, 1.2, 1.35]
w_hop_cq    = [0, 2.6, 2.7, 2.55, 2.3, 2.05, 2.2, 2.15, 2.2, 2.1, 2.05, 1.95, 2.0, 1.95, 1.9]
w_hop_cq_lo = [0, 1.8, 1.9, 1.8, 1.7, 1.6, 1.7, 1.65, 1.7, 1.7, 1.7, 1.7, 1.75, 1.7, 1.75]
w_hop_cq_hi = [0.1, 3.3, 3.5, 3.4, 3.2, 3.0, 2.9, 2.8, 2.7, 2.6, 2.5, 2.5, 2.4, 2.3, 2.2]
w_hop_sac_x  = [0, 0.05, 0.1, 0.2, 0.3, 0.4, 0.5, 0.6, 0.7, 0.8, 0.9, 1.0]
w_hop_sac    = [0, 2.0, 2.7, 2.6, 2.9, 2.7, 3.0, 2.8, 2.9, 2.75, 2.9, 2.45]
w_hop_sac_lo = [0, 1.2, 1.8, 1.8, 1.8, 1.8, 1.9, 1.8, 1.8, 1.7, 1.8, 1.7]
w_hop_sac_hi = [0.1, 2.8, 3.5, 3.6, 3.7, 3.7, 3.8, 3.7, 3.8, 3.7, 3.8, 3.6]
w_hop_droq_x  = [0, 0.05, 0.1, 0.2, 0.35, 0.5, 0.75, 1.0, 1.2, 1.5, 1.75, 2.0, 2.25, 2.5, 2.75, 3.0, 3.25, 3.4, 3.6, 3.75, 4.0, 4.2]
w_hop_droq    = [0, 1.0, 2.0, 2.4, 2.6, 2.9, 2.75, 2.85, 3.2, 3.25, 3.05, 3.05, 3.0, 3.05, 3.05, 3.1, 3.0, 3.4, 3.1, 3.15, 3.1, 3.15]
w_hop_droq_lo = [0, 0.6, 1.2, 1.6, 1.7, 1.8, 1.8, 1.9, 2.3, 2.5, 2.3, 2.0, 2.4, 2.2, 2.1, 2.4, 2.3, 2.5, 2.2, 2.4, 2.2, 2.1]
w_hop_droq_hi = [0.1, 1.5, 2.8, 3.1, 3.3, 3.5, 3.5, 3.5, 3.6, 3.6, 3.6, 3.6, 3.65, 3.65, 3.7, 3.7, 3.7, 3.75, 3.75, 3.8, 3.8, 3.85]
w_hop_redq_x  = [0, 0.05, 0.15, 0.3, 0.5, 0.75, 0.9, 1.0, 1.25, 1.5, 1.75, 2.0, 2.25, 2.4, 2.6, 2.8, 3.0, 3.25, 3.5, 3.75, 4.0, 4.2]
w_hop_redq    = [0, 2.8, 3.3, 3.4, 3.45, 3.4, 3.2, 3.3, 3.4, 3.45, 3.35, 3.5, 3.6, 3.3, 3.5, 3.45, 3.55, 3.5, 3.55, 3.6, 3.65, 3.65]
w_hop_redq_lo = [0, 2.0, 2.6, 2.8, 2.9, 2.9, 2.8, 2.8, 2.9, 2.9, 2.9, 2.9, 2.9, 2.8, 2.9, 2.9, 2.9, 2.9, 2.9, 2.9, 2.9, 2.9]
w_hop_redq_hi = [0.1, 3.4, 3.6, 3.7, 3.7, 3.75, 3.8, 3.85, 3.85, 3.9, 3.9, 3.9, 3.95, 3.95, 3.95, 3.95, 4.0, 4.0, 4.0, 4.0, 4.0, 4.0]

# ---------------- labels ----------------
ENVS = ["Humanoid", "HumanoidStandup", "Walker2d", "Ant", "HalfCheetah", "Hopper"]
ALGOS5 = ["CrossQ (ours)", "CrossQ (TD3)", "DroQ", "REDQ", "TD3", "SAC"]
ALGOS6 = ["CrossQ (ours)", "SAC", "DroQ", "REDQ"]
COLORS = {"CrossQ (ours)": "#000000", "CrossQ (TD3)": "#CC78BC", "DroQ": "#029E73",
          "REDQ": "#D55E00", "TD3": "#ECE133", "SAC": "#56B4E9"}
YTICKS = [[0, 3, 6, 9, 12], [0, 100, 200, 300, 400], [0, 2, 4, 6, 8],
          [0, 2, 4, 6, 8], [0, 4, 8, 12, 16], [0, 1, 2, 3, 4]]
XTICKS5 = [0, 1, 2, 3, 4, 5]
XTICKS6 = [[0, 2, 4, 6, 8], [0, 2, 4, 6, 8], [0, 1, 2, 3, 4],
           [0, 1, 2, 3, 4], [0, 1, 2, 3, 4], [0, 1, 2, 3, 4]]
YLIM5 = [(-0.64, 13.42), (-21, 442), (-0.39, 8.28), (-0.58, 9.07), (-1.28, 17.28), (-0.2, 4.31)]
YLIM6 = [(-0.53, 13.43), (-17.5, 443), (-0.33, 8.28), (-0.52, 9.03), (-0.98, 17.17), (-0.2, 4.29)]
XLIM6 = [(-0.45, 9.15), (-0.43, 9.15), (-0.22, 4.29), (-0.23, 4.94), (-0.22, 4.64), (-0.23, 4.42)]

CAP5 = [
    [("Figure 5: ", "rm"), ("Cross", "bf"), ("Q", "bfit"), (" sample efficiency.", "bf"),
     (" Compared to REDQ and DroQ (UTD = 20) Cross", "rm"), ("Q", "it")],
    [("(UTD = 1) performs either comparably, better, or\u2014for the more challenging ", "rm"),
     ("Humanoid", "tt"), (" tasks\u2014", "rm")],
    [("substantially better. These results directly transfer to TD3 as the base algorithm in Cross", "rm"),
     ("Q", "it"), (" (TD3).", "rm")],
    [("We plot ", "rm"), ("interquartile mean", "it"),
     (" (IQM) and 70% quantile interval of the episodic returns over 10 seeds.", "rm")],
]
CAP6 = [
    [("Figure 6: ", "rm"), ("Computational efficiency.", "bf"), (" Cross", "rm"), ("Q", "it"),
     (" trains an order of magnitude faster, taking only 5%", "rm")],
    [("of the gradient steps, substantially saving on wallclock time. The dashed horizontal lines are visual", "rm")],
    [("aids to better compare the final performance after training for ", "rm"), (r"$5\times10^6$", "math"),
     (" environment steps. We plot", "rm")],
    [("IQM and 70% quantile interval over 10 seeds. Appendix ", "rm"), ("A.3", "link"),
     (" provides a table of wallclock times.", "rm")],
]

# ---------------- setup ----------------
W, H = 2884, 916
plt.rcParams["font.family"] = "Liberation Serif"
plt.rcParams["mathtext.fontset"] = "custom"
plt.rcParams["mathtext.rm"] = "Liberation Serif"
plt.rcParams["mathtext.it"] = "Liberation Serif:italic"
plt.rcParams["mathtext.bf"] = "Liberation Serif:bold"

fig = plt.figure(figsize=(W / 100, H / 100), dpi=100)
fig.patch.set_facecolor("white")


class HStretch(AbstractPathEffect):
    """Widen glyphs horizontally, keeping the left origin or the centre fixed."""

    def __init__(self, sx, anchor="left"):
        super().__init__()
        self.sx = sx
        self.anchor = anchor

    def draw_path(self, renderer, gc, tpath, affine, rgbFace=None):
        if self.anchor == "center":
            ext = tpath.get_extents(affine)
            x0 = 0.5 * (ext.x0 + ext.x1)
        else:
            x0 = affine.get_matrix()[0, 2]
        st = Affine2D().translate(-x0, 0).scale(self.sx, 1.0).translate(x0, 0)
        renderer.draw_path(gc, tpath, affine + st, rgbFace)


def add_ax(l, t, r, b):
    return fig.add_axes([l / W, 1 - b / H, (r - l) / W, (b - t) / H])


def style(ax, name, xticks, yticks, ylim, title_y, show_x):
    ax.set_ylim(*ylim)
    ax.set_xticks(xticks)
    ax.set_yticks(yticks)
    ax.grid(True, color="#e3e3e3", lw=1.0)
    ax.set_axisbelow(True)
    for s in ax.spines.values():
        s.set_color("black")
        s.set_linewidth(1.5)
    ax.tick_params(axis="both", length=0, labelsize=15.5)
    ax.tick_params(axis="x", pad=7.2, labelbottom=show_x)
    ax.tick_params(axis="y", pad=7.9)
    ax.set_title(name, family="Liberation Mono", fontsize=19.5, y=title_y, va="center", pad=0,
                 path_effects=[HStretch(1.16, "center")])


F5 = {
    "Humanoid": {"CrossQ (ours)": (hum_cq, hum_cq_lo, hum_cq_hi), "CrossQ (TD3)": (hum_cqt, hum_cqt_lo, hum_cqt_hi),
                 "DroQ": (hum_droq, hum_droq_lo, hum_droq_hi), "REDQ": (hum_redq, hum_redq_lo, hum_redq_hi),
                 "TD3": (hum_td3, hum_td3_lo, hum_td3_hi), "SAC": (hum_sac, hum_sac_lo, hum_sac_hi)},
    "HumanoidStandup": {"CrossQ (ours)": (hsu_cq, hsu_cq_lo, hsu_cq_hi), "CrossQ (TD3)": (hsu_cqt, hsu_cqt_lo, hsu_cqt_hi),
                        "DroQ": (hsu_droq, hsu_droq_lo, hsu_droq_hi), "REDQ": (hsu_redq, hsu_redq_lo, hsu_redq_hi),
                        "TD3": (hsu_td3, hsu_td3_lo, hsu_td3_hi), "SAC": (hsu_sac, hsu_sac_lo, hsu_sac_hi)},
    "Walker2d": {"CrossQ (ours)": (wlk_cq, wlk_cq_lo, wlk_cq_hi), "CrossQ (TD3)": (wlk_cqt, wlk_cqt_lo, wlk_cqt_hi),
                 "DroQ": (wlk_droq, wlk_droq_lo, wlk_droq_hi), "REDQ": (wlk_redq, wlk_redq_lo, wlk_redq_hi),
                 "TD3": (wlk_td3, wlk_td3_lo, wlk_td3_hi), "SAC": (wlk_sac, wlk_sac_lo, wlk_sac_hi)},
    "Ant": {"CrossQ (ours)": (ant_cq, ant_cq_lo, ant_cq_hi), "CrossQ (TD3)": (ant_cqt, ant_cqt_lo, ant_cqt_hi),
            "DroQ": (ant_droq, ant_droq_lo, ant_droq_hi), "REDQ": (ant_redq, ant_redq_lo, ant_redq_hi),
            "TD3": (ant_td3, ant_td3_lo, ant_td3_hi), "SAC": (ant_sac, ant_sac_lo, ant_sac_hi)},
    "HalfCheetah": {"CrossQ (ours)": (hch_cq, hch_cq_lo, hch_cq_hi), "CrossQ (TD3)": (hch_cqt, hch_cqt_lo, hch_cqt_hi),
                    "DroQ": (hch_droq, hch_droq_lo, hch_droq_hi), "REDQ": (hch_redq, hch_redq_lo, hch_redq_hi),
                    "TD3": (hch_td3, hch_td3_lo, hch_td3_hi), "SAC": (hch_sac, hch_sac_lo, hch_sac_hi)},
    "Hopper": {"CrossQ (ours)": (hop_cq, hop_cq_lo, hop_cq_hi), "CrossQ (TD3)": (hop_cqt, hop_cqt_lo, hop_cqt_hi),
               "DroQ": (hop_droq, hop_droq_lo, hop_droq_hi), "REDQ": (hop_redq, hop_redq_lo, hop_redq_hi),
               "TD3": (hop_td3, hop_td3_lo, hop_td3_hi), "SAC": (hop_sac, hop_sac_lo, hop_sac_hi)},
}
F6 = {
    "Humanoid": {"CrossQ (ours)": (w_hum_cq_x, w_hum_cq, w_hum_cq_lo, w_hum_cq_hi), "SAC": (w_hum_sac_x, w_hum_sac, w_hum_sac_lo, w_hum_sac_hi),
                 "DroQ": (w_hum_droq_x, w_hum_droq, w_hum_droq_lo, w_hum_droq_hi), "REDQ": (w_hum_redq_x, w_hum_redq, w_hum_redq_lo, w_hum_redq_hi)},
    "HumanoidStandup": {"CrossQ (ours)": (w_hsu_cq_x, w_hsu_cq, w_hsu_cq_lo, w_hsu_cq_hi), "SAC": (w_hsu_sac_x, w_hsu_sac, w_hsu_sac_lo, w_hsu_sac_hi),
                        "DroQ": (w_hsu_droq_x, w_hsu_droq, w_hsu_droq_lo, w_hsu_droq_hi), "REDQ": (w_hsu_redq_x, w_hsu_redq, w_hsu_redq_lo, w_hsu_redq_hi)},
    "Walker2d": {"CrossQ (ours)": (w_wlk_cq_x, w_wlk_cq, w_wlk_cq_lo, w_wlk_cq_hi), "SAC": (w_wlk_sac_x, w_wlk_sac, w_wlk_sac_lo, w_wlk_sac_hi),
                 "DroQ": (w_wlk_droq_x, w_wlk_droq, w_wlk_droq_lo, w_wlk_droq_hi), "REDQ": (w_wlk_redq_x, w_wlk_redq, w_wlk_redq_lo, w_wlk_redq_hi)},
    "Ant": {"CrossQ (ours)": (w_ant_cq_x, w_ant_cq, w_ant_cq_lo, w_ant_cq_hi), "SAC": (w_ant_sac_x, w_ant_sac, w_ant_sac_lo, w_ant_sac_hi),
            "DroQ": (w_ant_droq_x, w_ant_droq, w_ant_droq_lo, w_ant_droq_hi), "REDQ": (w_ant_redq_x, w_ant_redq, w_ant_redq_lo, w_ant_redq_hi)},
    "HalfCheetah": {"CrossQ (ours)": (w_hch_cq_x, w_hch_cq, w_hch_cq_lo, w_hch_cq_hi), "SAC": (w_hch_sac_x, w_hch_sac, w_hch_sac_lo, w_hch_sac_hi),
                    "DroQ": (w_hch_droq_x, w_hch_droq, w_hch_droq_lo, w_hch_droq_hi), "REDQ": (w_hch_redq_x, w_hch_redq, w_hch_redq_lo, w_hch_redq_hi)},
    "Hopper": {"CrossQ (ours)": (w_hop_cq_x, w_hop_cq, w_hop_cq_lo, w_hop_cq_hi), "SAC": (w_hop_sac_x, w_hop_sac, w_hop_sac_lo, w_hop_sac_hi),
               "DroQ": (w_hop_droq_x, w_hop_droq, w_hop_droq_lo, w_hop_droq_hi), "REDQ": (w_hop_redq_x, w_hop_redq, w_hop_redq_lo, w_hop_redq_hi)},
}

# pixel boxes (left, right) / (top, bottom)
COLS5 = [(128, 484), (555, 912), (983, 1339)]
ROWS5 = [(111, 309), (378, 577)]
COLS6 = [(1596, 1956), (2027, 2386), (2457, 2817)]
ROWS6 = [(102, 294), (381, 572)]
DRAW5 = ["TD3", "SAC", "REDQ", "DroQ", "CrossQ (TD3)", "CrossQ (ours)"]
DRAW6 = ["REDQ", "DroQ", "SAC", "CrossQ (ours)"]

for i, env in enumerate(ENVS):
    r, c = divmod(i, 3)
    (l, rr), (t, b) = COLS5[c], ROWS5[r]
    ax = add_ax(l, t, rr, b)
    for k in DRAW5:
        m, lo, hi = F5[env][k]
        ax.fill_between(X5, lo, hi, color=COLORS[k], alpha=0.2, lw=0)
    for k in DRAW5:
        ax.plot(X5, F5[env][k][0], color=COLORS[k], lw=2.3)
    ax.set_xlim(-0.25, 5.25)
    style(ax, env, XTICKS5, YTICKS[i], YLIM5[i], 1.086 if r == 0 else 1.07, r == 1)
    if c == 0:
        ax.set_ylabel("IQM Return (1k)", fontsize=19)
        ax.yaxis.set_label_coords(-0.15, 0.5)
    if r == 1:
        ax.set_xlabel("Env Steps (1M)", fontsize=19)
        ax.xaxis.set_label_coords(0.5, -0.21)

for i, env in enumerate(ENVS):
    r, c = divmod(i, 3)
    (l, rr), (t, b) = COLS6[c], ROWS6[r]
    ax = add_ax(l, t, rr, b)
    xmax = max(F6[env][k][0][-1] for k in DRAW6)
    for k in DRAW6:
        x, m, lo, hi = F6[env][k]
        ax.fill_between(x, lo, hi, color=COLORS[k], alpha=0.2, lw=0)
    for k in DRAW6:
        x, m = F6[env][k][0], F6[env][k][1]
        if x[-1] < xmax - 0.05:
            ax.plot([x[-1], xmax], [m[-1], m[-1]], color=COLORS[k], alpha=0.5, lw=2.6,
                    ls=(0, (4.3, 2.3)))
    for k in DRAW6:
        x, m = F6[env][k][0], F6[env][k][1]
        ax.plot(x, m, color=COLORS[k], lw=2.3)
    ax.set_xlim(*XLIM6[i])
    style(ax, env, XTICKS6[i], YTICKS[i], YLIM6[i], 1.089, True)
    if c == 0:
        ax.set_ylabel("IQM Return (1k)", fontsize=19)
        ax.yaxis.set_label_coords(-0.151, 0.5)
    if r == 1:
        ax.set_xlabel("Wallclock [hours]", fontsize=19)
        ax.xaxis.set_label_coords(0.5, -0.22)

# legends
for algos, cx in ((ALGOS5, 691), (ALGOS6, 2163)):
    handles = [Line2D([], [], color=COLORS[a], lw=11.5, solid_capstyle="butt") for a in algos]
    fig.legend(handles, algos, loc="center", bbox_to_anchor=(cx / W, 1 - 685 / H), ncol=len(algos),
               frameon=False, fontsize=19, handlelength=2.61, handletextpad=0.53, columnspacing=1.74,
               borderaxespad=0, borderpad=0)

# page separator
fig.add_artist(Line2D([1431 / W, 1431 / W], [0, 1], transform=fig.transFigure, color="#4d4d4d", lw=1.5))

# ---------------- captions (justified) ----------------
CAP_FS = 20
FONTS = {
    "rm": dict(family="Liberation Serif"),
    "bf": dict(family="Liberation Serif", weight="bold"),
    "it": dict(family="Liberation Serif", style="italic"),
    "bfit": dict(family="Liberation Serif", weight="bold", style="italic"),
    "tt": dict(family="Liberation Mono"),
    "link": dict(family="Liberation Serif", color="#2a2ad8"),
    "math": dict(family="Liberation Serif"),
}


def words_of(runs):
    words, cur = [], []
    for text, sty in runs:
        for j, p in enumerate(text.split(" ")):
            if j > 0 and cur:
                words.append(cur)
                cur = []
            if p:
                cur.append((p, sty))
    if cur:
        words.append(cur)
    return words


rend = fig.canvas.get_renderer()


def text_w(s, sty):
    t = fig.text(0, 0, s, fontsize=CAP_FS, **FONTS[sty])
    w = t.get_window_extent(rend).width
    t.remove()
    return w


def caption(runs_lines, x0, x1, baselines, last_x1):
    space = text_w("n n", "rm") - text_w("nn", "rm")
    lines = [[[(p, s, text_w(p, s)) for p, s in word] for word in words_of(rl)] for rl in runs_lines]
    rights = [x1] * (len(lines) - 1) + [last_x1]
    ratios = []
    for ws, right in zip(lines, rights):
        tot = sum(w for word in ws for _, _, w in word)
        ratios.append((right - x0) / (tot + space * (len(ws) - 1)))
    sx = float(min(ratios))
    for i, ws in enumerate(lines):
        tot = sum(w for word in ws for _, _, w in word) * sx
        gap = (rights[i] - x0 - tot) / (len(ws) - 1)
        x = x0
        for word in ws:
            for p, s, w in word:
                fig.text(x / W, 1 - baselines[i] / H, p, fontsize=CAP_FS, ha="left", va="baseline",
                         path_effects=[HStretch(sx)], **FONTS[s])
                x += w * sx
            x += gap


caption(CAP5, 50, 1293, [762, 790, 819, 847], 1282)
caption(CAP6, 1477, 2812, [758, 786, 815, 843], 2755)

fig.savefig("out.png", dpi=100)
